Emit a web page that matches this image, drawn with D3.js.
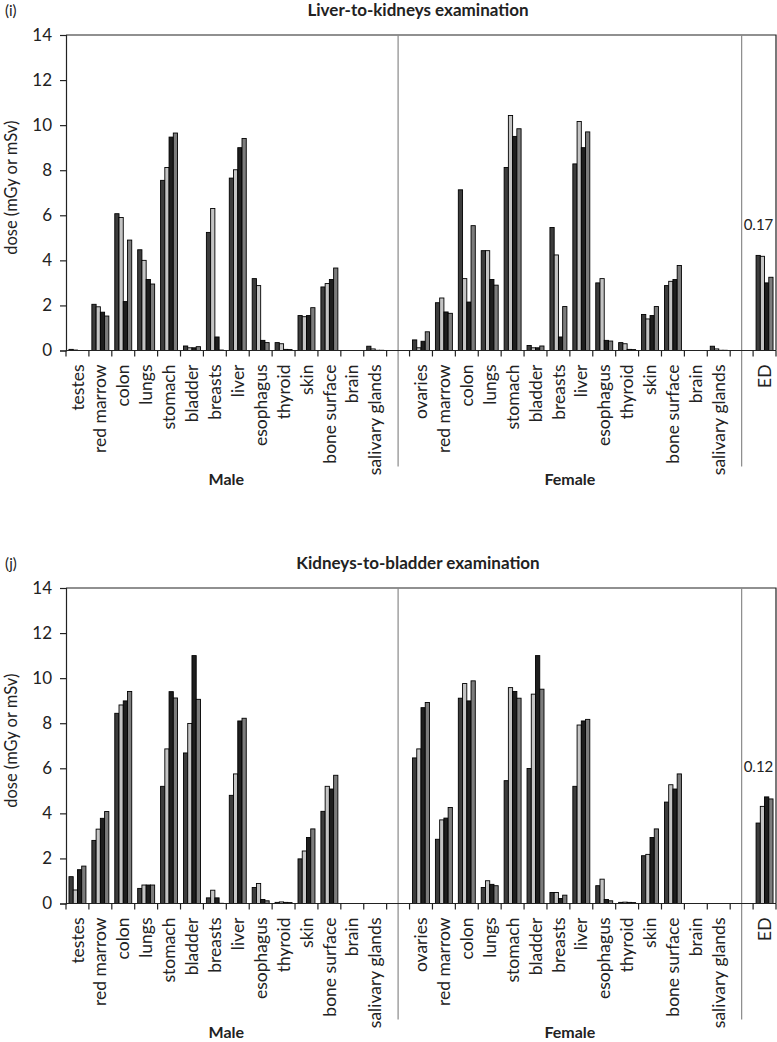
<!DOCTYPE html>
<html>
<head>
<meta charset="utf-8">
<script src="https://cdn.jsdelivr.net/npm/d3@7"></script>
<style>
  body { margin: 0; background: #fff; }
  svg { display: block; font-family: Lato, 'Open Sans', sans-serif; }
</style>
</head>
<body>
<div id="chart"></div>
<script>
const maleOrgans = ['testes', 'red marrow', 'colon', 'lungs', 'stomach', 'bladder', 'breasts',
  'liver', 'esophagus', 'thyroid', 'skin', 'bone surface', 'brain', 'salivary glands'];
const femaleOrgans = ['ovaries', 'red marrow', 'colon', 'lungs', 'stomach', 'bladder', 'breasts',
  'liver', 'esophagus', 'thyroid', 'skin', 'bone surface', 'brain', 'salivary glands'];
const edLabel = 'ED';
const yTicks = [0, 2, 4, 6, 8, 10, 12, 14];

// (i) liver-to-kidneys, four bars per organ
const liverKidneysMale = [
  [0.05, 0.02, 0, 0], [2.05, 1.94, 1.7, 1.53], [6.07, 5.9, 2.17, 4.9], [4.47, 4.0, 3.15, 2.95],
  [7.55, 8.12, 9.47, 9.65], [0.2, 0.12, 0.12, 0.17], [5.24, 6.3, 0.6, 0.02], [7.65, 8.02, 9.0, 9.41],
  [3.19, 2.88, 0.45, 0.35], [0.35, 0.3, 0.05, 0.04], [1.55, 1.5, 1.55, 1.9], [2.82, 2.97, 3.15, 3.66],
  [0, 0, 0, 0], [0.19, 0.07, 0.01, 0.01]
];
const liverKidneysFemale = [
  [0.47, 0.12, 0.41, 0.83], [2.12, 2.33, 1.71, 1.65], [7.13, 3.19, 2.15, 5.54], [4.43, 4.43, 3.15, 2.9],
  [8.12, 10.43, 9.5, 9.84], [0.22, 0.12, 0.12, 0.2], [5.46, 4.24, 0.6, 1.95], [8.28, 10.16, 9.0, 9.7],
  [3.0, 3.19, 0.45, 0.42], [0.35, 0.3, 0.05, 0.04], [1.6, 1.4, 1.55, 1.95], [2.88, 3.07, 3.15, 3.77],
  [0, 0, 0, 0], [0.19, 0.07, 0.01, 0.01]
];
const liverKidneysED = [4.22, 4.18, 3.0, 3.25];

// (j) kidneys-to-bladder
const kidneysBladderMale = [
  [1.19, 0.6, 1.5, 1.66], [2.8, 3.3, 3.78, 4.08], [8.44, 8.81, 8.99, 9.41], [0.67, 0.82, 0.82, 0.82],
  [5.2, 6.86, 9.4, 9.12], [6.68, 7.99, 11.0, 9.06], [0.25, 0.59, 0.25, 0.01], [4.8, 5.75, 8.1, 8.22],
  [0.71, 0.89, 0.18, 0.12], [0.05, 0.07, 0.05, 0.04], [1.98, 2.33, 2.93, 3.31], [4.09, 5.2, 5.08, 5.69],
  [0, 0, 0, 0], [0, 0, 0, 0]
];
const kidneysBladderFemale = [
  [6.46, 6.86, 8.69, 8.92], [2.85, 3.71, 3.79, 4.26], [9.11, 9.76, 8.99, 9.88], [0.71, 1.01, 0.85, 0.79],
  [5.45, 9.58, 9.41, 9.11], [5.99, 9.29, 11.0, 9.51], [0.49, 0.49, 0.22, 0.37], [5.2, 7.92, 8.1, 8.17],
  [0.79, 1.08, 0.18, 0.12], [0.05, 0.06, 0.05, 0.04], [2.12, 2.18, 2.93, 3.31], [4.5, 5.27, 5.08, 5.75],
  [0, 0, 0, 0], [0, 0, 0, 0]
];
const kidneysBladderED = [3.57, 4.31, 4.73, 4.64];

const panels = [
  { tag: '(i)', title: 'Liver-to-kidneys examination', male: liverKidneysMale,
    female: liverKidneysFemale, ed: liverKidneysED, edNote: '0.17', top: 0 },
  { tag: '(j)', title: 'Kidneys-to-bladder examination', male: kidneysBladderMale,
    female: kidneysBladderFemale, ed: kidneysBladderED, edNote: '0.12', top: 553 }
];

const barFill = ['#3c3c3c', '#c4c4c4', '#1e1e1e', '#7c7c7c'];
const width = 777, height = 1042;

const svg = d3.select('#chart').append('svg')
  .attr('width', width)
  .attr('height', height);

svg.append('rect').attr('width', width).attr('height', height).attr('fill', '#fff');

// one key per slot: 14 male, gap, 14 female, gap, ED
const keys = [
  ...maleOrgans.map(d => 'M|' + d), 'gap1',
  ...femaleOrgans.map(d => 'F|' + d), 'gap2', edLabel
];

const x = d3.scaleBand().domain(keys).range([66, 776]).paddingInner(0).paddingOuter(0);
const xBar = d3.scaleBand().domain(d3.range(4)).range([0, x.bandwidth()]).paddingOuter(0.7).paddingInner(0);

const drawPanel = p => {
  const g = svg.append('g').attr('transform', `translate(0, ${p.top})`);
  const plotTop = 35, plotBottom = 350.5;
  const y = d3.scaleLinear().domain([0, 14]).range([plotBottom, plotTop]);

  g.append('text')
    .attr('x', 5).attr('y', 16)
    .style('font-size', '15px')
    .attr('fill', '#222')
    .text(p.tag);

  g.append('text')
    .attr('x', 418).attr('y', 16)
    .attr('text-anchor', 'middle')
    .style('font-size', '17px')
    .style('font-weight', 'bold')
    .attr('fill', '#222')
    .text(p.title);

  const rows = [
    ...p.male.map((v, i) => ({ key: 'M|' + maleOrgans[i], values: v })),
    ...p.female.map((v, i) => ({ key: 'F|' + femaleOrgans[i], values: v })),
    { key: edLabel, values: p.ed }
  ];

  // plot frame
  g.append('path')
    .attr('d', `M${x.range()[0]},${plotTop}H${x.range()[1]}V${plotBottom}`)
    .attr('fill', 'none')
    .attr('stroke', '#222')
    .attr('stroke-width', 1.2);

  // group dividers
  ['gap1', 'gap2'].forEach(k => {
    const cx = x(k) + x.bandwidth() / 2;
    g.append('line')
      .attr('x1', cx).attr('x2', cx)
      .attr('y1', plotTop).attr('y2', plotBottom + 116)
      .attr('stroke', '#8a8a8a')
      .attr('stroke-width', 1.2);
  });

  const groups = g.selectAll('g.cat').data(rows)
    .enter().append('g')
      .attr('class', 'cat')
      .attr('transform', d => `translate(${x(d.key)}, 0)`);

  groups.selectAll('rect').data(d => d.values.filter(v => v > 0).length ? d.values : [])
    .enter().append('rect')
      .attr('x', (d, i) => xBar(i))
      .attr('width', xBar.bandwidth())
      .attr('y', d => y(d))
      .attr('height', d => y(0) - y(d))
      .attr('fill', (d, i) => barFill[i])
      .attr('stroke', '#000')
      .attr('stroke-width', 0.9);

  // y axis
  const yAxis = g.append('g')
    .attr('transform', `translate(${x.range()[0]}, 0)`)
    .call(d3.axisLeft(y).tickValues(yTicks).tickSize(6).tickPadding(8));
  yAxis.attr('font-size', 17).attr('font-family', 'Lato, sans-serif');
  yAxis.select('.domain').attr('stroke', '#222').attr('stroke-width', 1.2);
  yAxis.selectAll('.tick line').attr('stroke', '#222').attr('stroke-width', 1.2);
  yAxis.selectAll('.tick text').attr('fill', '#222');

  g.append('text')
    .attr('transform', `translate(17, ${(plotTop + plotBottom) / 2 - 5}) rotate(-90)`)
    .attr('text-anchor', 'middle')
    .style('font-size', '16.5px')
    .attr('fill', '#222')
    .text('dose (mGy or mSv)');

  // x axis: line, ticks between categories, rotated labels
  g.append('line')
    .attr('x1', x.range()[0]).attr('x2', x.range()[1])
    .attr('y1', plotBottom).attr('y2', plotBottom)
    .attr('stroke', '#222').attr('stroke-width', 1.2);

  const bounds = [...keys.map(k => x(k)), x.range()[1]];
  g.selectAll('line.xtick').data(bounds)
    .enter().append('line')
      .attr('class', 'xtick')
      .attr('x1', d => d).attr('x2', d => d)
      .attr('y1', plotBottom).attr('y2', plotBottom + 6)
      .attr('stroke', '#222').attr('stroke-width', 1.2);

  g.selectAll('text.cat').data(keys.filter(k => !k.startsWith('gap')))
    .enter().append('text')
      .attr('class', 'cat')
      .attr('transform', d => `translate(${x(d) + x.bandwidth() / 2}, ${plotBottom + 14}) rotate(-90)`)
      .attr('text-anchor', 'end')
      .attr('dy', '0.35em')
      .style('font-size', '17.5px')
      .attr('fill', '#222')
      .text(d => d.includes('|') ? d.split('|')[1] : d);

  g.append('text')
    .attr('x', (x(keys[0]) + x(keys[13]) + x.bandwidth()) / 2)
    .attr('y', plotBottom + 134)
    .attr('text-anchor', 'middle')
    .style('font-size', '16px')
    .style('font-weight', 'bold')
    .attr('fill', '#222')
    .text('Male');

  g.append('text')
    .attr('x', (x(keys[15]) + x(keys[28]) + x.bandwidth()) / 2)
    .attr('y', plotBottom + 134)
    .attr('text-anchor', 'middle')
    .style('font-size', '16px')
    .style('font-weight', 'bold')
    .attr('fill', '#222')
    .text('Female');

  g.append('text')
    .attr('x', x('gap2') + x.bandwidth() / 2 + 2)
    .attr('y', y(d3.max(p.ed)) - 25)
    .style('font-size', '15px')
    .attr('fill', '#222')
    .text(p.edNote);
};

panels.forEach(drawPanel);
</script>
</body>
</html>
